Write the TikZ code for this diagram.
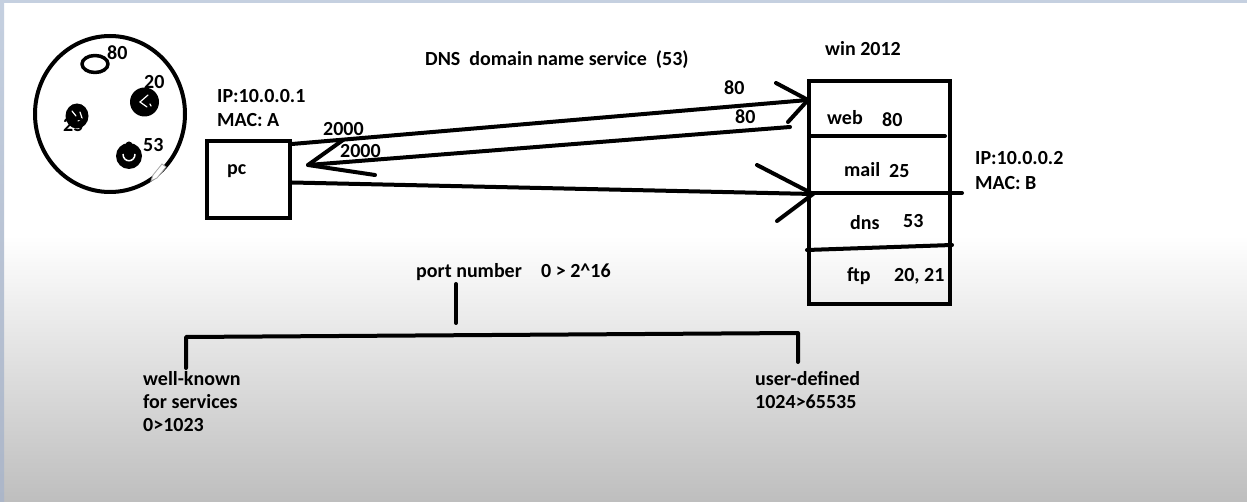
\documentclass[tikz,border=0pt]{standalone}
\usepackage{fontspec}
\setmainfont{Carlito}
\usetikzlibrary{calc}
\definecolor{bandblue}{RGB}{197,208,224}
\definecolor{bandleft}{RGB}{172,182,200}
\definecolor{bottomgray}{RGB}{190,190,190}
\begin{document}
\begin{tikzpicture}[x=1pt,y=-1pt,
  ink/.style={line width=4pt, line cap=round, line join=round},
  lbl/.style={inner sep=0pt, anchor=base west, font=\bfseries\fontsize{20}{24}\selectfont},
  box/.style={draw, line width=4pt, inner sep=0pt}]
\useasboundingbox (0,0) rectangle (1247,502);
% background
\fill[white] (0,0) rectangle (1247,502);
\shade[top color=white, bottom color=bottomgray] (0,235) rectangle (1247,502);
\fill[bandblue] (0,0) rectangle (1247,3);
\shade[top color=bandblue, bottom color=bandleft] (0,0) rectangle (4,502);

% port diagram (circle)
\draw[ink] (110,114) ellipse [x radius=75, y radius=78];
\draw[ink, line width=3.5pt] (95,64) ellipse [x radius=13, y radius=8.5];
\fill (144.5,102) circle[radius=14.5];
\draw[white, line width=1.2pt, line cap=round] (148,95) -- (140,102) -- (147,107) (150,104) -- (151,106);
\fill (77,116) ellipse [x radius=11.5, y radius=12.5];
\draw[white, line width=1.2pt, line cap=round] (72,111) -- (76,116) (80,112) -- (82,118) -- (78,121);
\fill (129,156) circle[radius=13];
\fill (129,145) circle[radius=3.5];
\draw[white, line width=1.5pt] (123,154) .. controls (123,163) and (135,163) .. (135,154);
\filldraw[fill=white, draw=gray!70, line width=0.8pt] (151,181) -- (153,175) -- (162,164) -- (166,167) -- (157,178) -- cycle;
\node[lbl] (c80) at (107,60) {80};
\node[lbl] (c20) at (144,89) {20};
\node[lbl] (c25) at (63,132) {25};
\node[lbl] (c53) at (143,152) {53};

% pc
\node[box, minimum width=83pt, minimum height=77pt] (pc) at (248.5,179.5) {};
\node[lbl] (pclbl) at (227,175) {pc};
\node[lbl] (ip1) at (217,103) {IP:10.0.0.1};
\node[lbl] (mac1) at (217,127) {MAC: A};

% server
\node[box, minimum width=141pt, minimum height=223pt] (srv) at (879.5,192.5) {};
\node[lbl] (win) at (825,56) {win 2012};
\coordinate (d1a) at (809,136); \coordinate (d1b) at (945,136);
\coordinate (d2a) at (809,193); \coordinate (d2b) at (962,193);
\coordinate (d3a) at (807,250); \coordinate (d3b) at (952,245);
\draw[ink] (d1a) -- (d1b);
\draw[ink] (d2a) -- (d2b);
\draw[ink] (d3a) -- (d3b);
\node[lbl] (web) at (827,125) {web};
\node[lbl] (web80) at (882,127) {80};
\node[lbl] (mail) at (844,177) {mail};
\node[lbl] (mail25) at (889,178) {25};
\node[lbl] (dns) at (850,230) {dns};
\node[lbl] (dns53) at (903,228) {53};
\node[lbl] (ftp) at (847,282) {ftp};
\node[lbl] (ftp21) at (894,282) {20,~21};
\node[lbl] (ip2) at (975,165) {IP:10.0.0.2};
\node[lbl] (mac2) at (975,190) {MAC: B};
\node[lbl] (dnsinfo) at (425,66) {DNS\ \ domain name service\ \ (53)};

% connections
\coordinate (pcA) at ($(pc.north east)+(0,5)$);
\coordinate (tipA) at (808,100);
\coordinate (armA1) at (776,83);
\coordinate (armA2) at (788,122);
\draw[ink] (pcA) -- (tipA);
\draw[ink] (armA1) -- (tipA) -- (armA2);
\coordinate (retB) at (790,127);
\coordinate (tipB) at (308,165);
\coordinate (armB1) at (343,140);
\coordinate (armB2) at (375,175);
\draw[ink] (retB) -- (tipB);
\draw[ink] (armB1) -- (tipB) -- (armB2);
\coordinate (pcC) at ($(pc.east)+(0,3)$);
\coordinate (tipC) at (813,194);
\coordinate (armC1) at (757,165);
\coordinate (armC2) at (777,221);
\draw[ink] (pcC) -- (tipC);
\draw[ink] (armC1) -- (tipC) -- (armC2);
\node[lbl] (l2000a) at (323,136) {2000};
\node[lbl] (l2000b) at (340,158) {2000};
\node[lbl] (l80a) at (724,95) {80};
\node[lbl] (l80b) at (735,124) {80};

% port number tree
\node[lbl] (port) at (416,278) {port number};
\node[lbl] (range) at (541,278) {0 > 2\^{}16};
\coordinate (stemT) at (456,284);
\coordinate (stemB) at (456,323);
\coordinate (barL) at (186,337);
\coordinate (barR) at (798,333);
\coordinate (legL) at (186,368);
\coordinate (legR) at (798,362);
\draw[ink] (stemT) -- (stemB);
\draw[ink] (legL) -- (barL) -- (barR) -- (legR);
\node[lbl] (wk1) at (143,385) {well-known};
\node[lbl] (wk2) at (143,408) {for services};
\node[lbl] (wk3) at (143,431) {0>1023};
\node[lbl] (ud1) at (755,385) {user-defined};
\node[lbl] (ud2) at (755,408) {1024>65535};
\end{tikzpicture}
\end{document}
